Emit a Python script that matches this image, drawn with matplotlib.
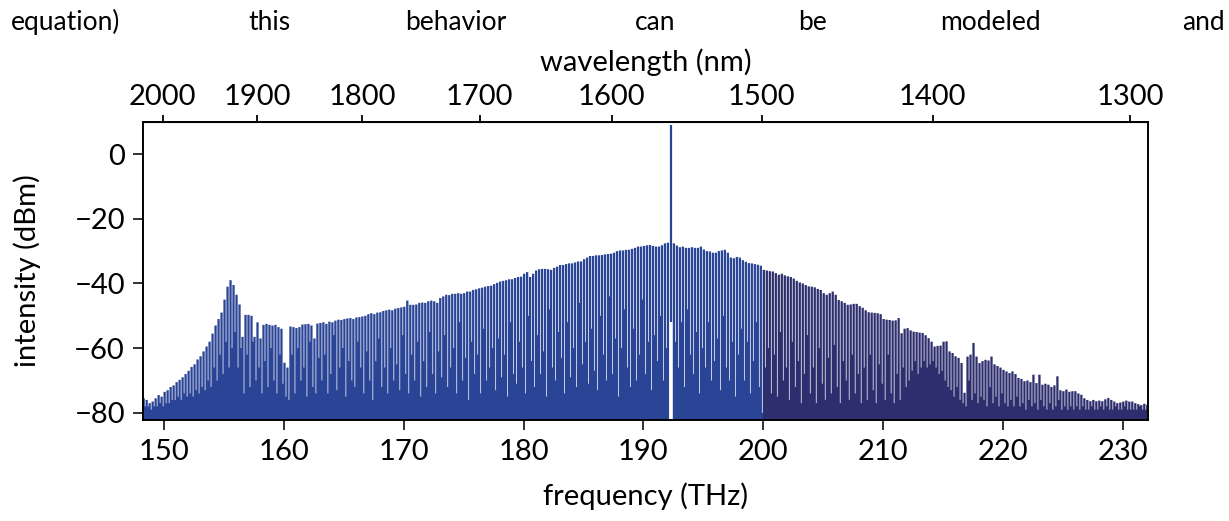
import numpy as np
import matplotlib.pyplot as plt
from matplotlib.patches import Rectangle

plt.rcParams['font.family'] = ['Lato', 'DejaVu Sans']

# comb lines: first line frequency and line spacing (THz)
comb_start_thz = 148.3
comb_spacing_thz = 0.25

# peak power of every comb line (dBm); None = pump slot
comb_peak_dbm = [
    -75.5, -76, -77, -76.5, -75.5, -74.5, -75, -73.5, -73, -72,
    -71.5, -70.5, -69.8, -69, -68, -67, -65.8, -65, -63.5, -62.5,
    -61, -59.5, -58, -55.5, -53, -51, -49, -45, -41, -39,
    -40.5, -43.5, -46.5, -56.5, -49.7, -49.7, -50, -56.5, -52, -57,
    -52.8, -52.5, -52.8, -53, -52.8, -53.5, -54, -64.5, -66, -53.3,
    -53.5, -53.8, -53.5, -52.7, -52.6, -52.5, -53, -57, -52.4, -52.2,
    -52, -52.5, -51.8, -52, -51.5, -51.2, -51.3, -51, -50.8, -50.7,
    -51, -50.5, -50.4, -50.2, -50, -49.5, -49.2, -49.5, -49, -48.9,
    -48.5, -48.3, -48.1, -48.3, -47.8, -47.6, -47.4, -47.2, -45.3, -46.6,
    -46.6, -46.5, -46, -45.9, -46, -45.5, -45.3, -45.5, -46, -44.5,
    -44, -43.5, -43.6, -43.2, -43.2, -43, -43.2, -43, -42.5, -42.5,
    -42, -41.8, -41.5, -41.3, -41, -40.8, -40.7, -40.2, -39.8, -39.4,
    -39.2, -39, -38.7, -38.7, -38.3, -38, -37.9, -37, -36.5, -38,
    -37, -36, -35.6, -35.5, -35.5, -35.6, -35.8, -35.2, -34.8, -34.3,
    -34.3, -34, -33.8, -33.8, -33.5, -33.2, -33.2, -32.5, -32, -31.5,
    -31.5, -31.3, -31.3, -31.2, -31, -30.9, -30.8, -30.5, -30, -29.8,
    -29.8, -29.6, -29.6, -29.3, -29, -28.6, -28.6, -28.4, -28.2, -28.1,
    -28.4, -28.6, -28.6, -28.2, -27.6, -27.4, None, -27.6, -28.3, -28.8,
    -28.6, -29, -29, -28.8, -29, -29, -28.6, -29.5, -30, -30.1,
    -30.5, -30.5, -30, -29.8, -29.6, -30.5, -32, -32.2, -31.8, -32,
    -32.8, -33.3, -33.7, -33.8, -34, -34.2, -34.5, -35.8, -36, -36.2,
    -36.3, -36.8, -37.3, -37, -37.5, -37.8, -38, -38.5, -39.2, -39.7,
    -40, -40.5, -40.9, -41, -41.2, -41.7, -42, -43, -43.5, -43,
    -42.5, -43.5, -45.1, -45.5, -46, -46.6, -46.5, -46.3, -46.3, -47,
    -47.5, -48.3, -48.9, -49, -49.1, -49.2, -49.5, -51, -51.2, -51.3,
    -51.5, -51.4, -50.7, -55.4, -54, -53.8, -54.5, -54.9, -55, -55.2,
    -55.3, -56, -56.9, -58, -59.5, -59.3, -59.2, -58, -57.9, -61,
    -61.5, -62.5, -63, -64.6, -73.8, -62.6, -62, -58.4, -62.6, -64.6,
    -64, -63.6, -63.8, -62.6, -65, -65.5, -66, -66.7, -67.2, -67.7,
    -67.2, -68, -69.2, -69.5, -70.2, -70, -70.5, -68.2, -70.8, -68.2,
    -71.3, -71, -71.3, -72, -71.5, -68.7, -73, -73.3, -72.8, -73.5,
    -73.3, -73.3, -74, -74.4, -75.5, -76, -76.4, -76, -76.4, -76.2,
    -76.4, -75.8, -75.4, -76, -76.5, -77, -76.8, -76.5, -76.2, -76.5,
    -76.5, -77, -77.3, -77.6, -77.2, -77.5,
]

# level the trace falls to just after each line (dBm); None = filtered notch
comb_trough_dbm = [
    -78, -78, -79, -78, -78, -77, -78, -77, -77, -76,
    -76, -75, -76, -74, -75, -74, -75, -73, -74, -72,
    -73, -70, -72, -66, -70, -62, -68, -58, -66, -60,
    -55, -66, -60, -74, -62, -72, -58, -70, -66, -74,
    -64, -72, -60, -70, -74, -62, -71, -75, -76, -62,
    -74, -60, -70, -66, -75, -58, -72, -74, -63, -70,
    -62, -74, -68, -56, -73, -66, -60, -75, -64, -70,
    -72, -58, -66, -74, -61, -70, -76, -64, -57, -72,
    -66, -74, -60, -70, -65, -73, -56, -68, -74, -62,
    -70, -58, -75, -64, -72, -55, -68, -74, -61, -69,
    -56, -72, -66, -60, -74, -52, -70, -63, -76, -58,
    -68, -62, -74, -54, -70, -66, -60, -73, -57, -69,
    -62, -75, -52, -68, -71, -58, -66, -74, -50, -64,
    -72, -56, -68, -61, -75, -48, -66, -70, -55, -63,
    -74, -52, -69, -60, -72, -46, -65, -58, -71, -54,
    -67, -73, -50, -62, -70, -44, -68, -57, -75, -60,
    -48, -66, -72, -54, -70, -62, -45, -68, -58, -73,
    -56, -64, -50, -70, -60, None, None, -58, -66, -52,
    -72, -48, -62, -68, -55, -74, -60, -66, -52, -70,
    -64, -57, -73, -50, -66, -70, -58, -75, -62, -54,
    -70, -58, -74, -64, -52, -72, -80, -66, -60, -74,
    -62, -75, -55, -70, -66, -76, -58, -72, -64, -77,
    -68, -56, -74, -66, -77, -60, -71, -76, -63, -74,
    -59, -72, -77, -64, -70, -76, -62, -74, -68, -77,
    -66, -76, -62, -73, -77, -65, -71, -76, -62, -74,
    -77, -68, -76, -66, -72, -70, -67, -64, -68, -66,
    -64, -66, -65, -64, -66, -68, -67, -70, -72, -73,
    -75, -72, -76, -77, -78, -70, -76, -74, -77, -75,
    -76, -78, -72, -77, -75, -78, -74, -77, -78, -76,
    -78, -75, -78, -77, -79, -76, -78, -77, -79, -76,
    -78, -79, -77, -79, -78, -76, -79, -78, -79, -78,
    -79, -78, -79, -78, -79, -79, -78, -79, -79, -78,
    -79, -78, -79, -79, -78, -79, -79, -78, -79, -79,
    -79, -79, -78, -79, -79, -79,
]

pump_thz = 192.3
pump_dbm = 9.0

freq_ticks = [150, 160, 170, 180, 190, 200, 210, 220, 230]
wl_ticks_nm = [2000, 1900, 1800, 1700, 1600, 1500, 1400, 1300]
dbm_ticks = [-80, -60, -40, -20, 0]

# running text cut from the page above the figure
page_words = ["equation)", "this", "behavior", "can", "be", "modeled", "and"]
page_word_x = [66, 269, 456, 655, 813, 990, 1203]

blue = '#2a4496'
navy = '#2c2e6e'
C_NM_THZ = 299792.458
XLIM = (148.25, 232.1)
YLIM = (-82.2, 9.9)

fig = plt.figure(figsize=(12.29, 5.21), dpi=100)
ax = fig.add_axes([0.1164, 0.1939, 0.8176, 0.5719])

peak = np.array(comb_peak_dbm, dtype=float)
trough = np.array(comb_trough_dbm, dtype=float)
freq = comb_start_thz + comb_spacing_thz * np.arange(len(peak))

gap = 0.06
hw = (comb_spacing_thz - gap) / 2
xs = np.column_stack([freq - hw, freq + hw, freq + hw, freq + comb_spacing_thz - hw]).ravel()
ys = np.column_stack([peak, peak, trough, trough]).ravel()

# same trace, two colours: the two halves of the spectrum were measured separately
for lo, hi, col in [(XLIM[0], 200, blue), (200, XLIM[1], navy)]:
    coll = ax.fill_between(xs, ys, -90, color=col, lw=0)
    coll.set_clip_path(Rectangle((lo, YLIM[0]), hi - lo, YLIM[1] - YLIM[0],
                                 transform=ax.transData))

ax.vlines(pump_thz, -52, pump_dbm, color=blue, lw=1.6)

ax.set_xlim(*XLIM)
ax.set_ylim(*YLIM)
ax.set_xticks(freq_ticks)
ax.set_yticks(dbm_ticks)
ax.set_yticklabels([str(v).replace('-', '\u2212') for v in dbm_ticks])
ax.tick_params(axis='both', labelsize=21, width=1.3, length=7, color='#222222')
ax.tick_params(axis='x', pad=7)
ax.tick_params(axis='y', pad=6)
for sp in ax.spines.values():
    sp.set_linewidth(1.4)
    sp.set_zorder(5)
ax.set_xlabel('frequency (THz)', fontsize=21, labelpad=12)
ax.set_ylabel('intensity (dBm)', fontsize=21, labelpad=24)


def to_nm(f):
    f = np.asarray(f, dtype=float)
    return C_NM_THZ / np.where(f == 0, 1e-9, f)


top = ax.secondary_xaxis('top', functions=(to_nm, to_nm))
top.set_xticks(wl_ticks_nm)
top.tick_params(labelsize=21, width=1.3, length=5, pad=4)
top.set_xlabel('wavelength (nm)', fontsize=21, labelpad=9)

for w, x in zip(page_words, page_word_x):
    fig.text(x / 1229, 1 - 22 / 521, w, ha='center', va='center', fontsize=19)

fig.savefig('out.png', dpi=100)
